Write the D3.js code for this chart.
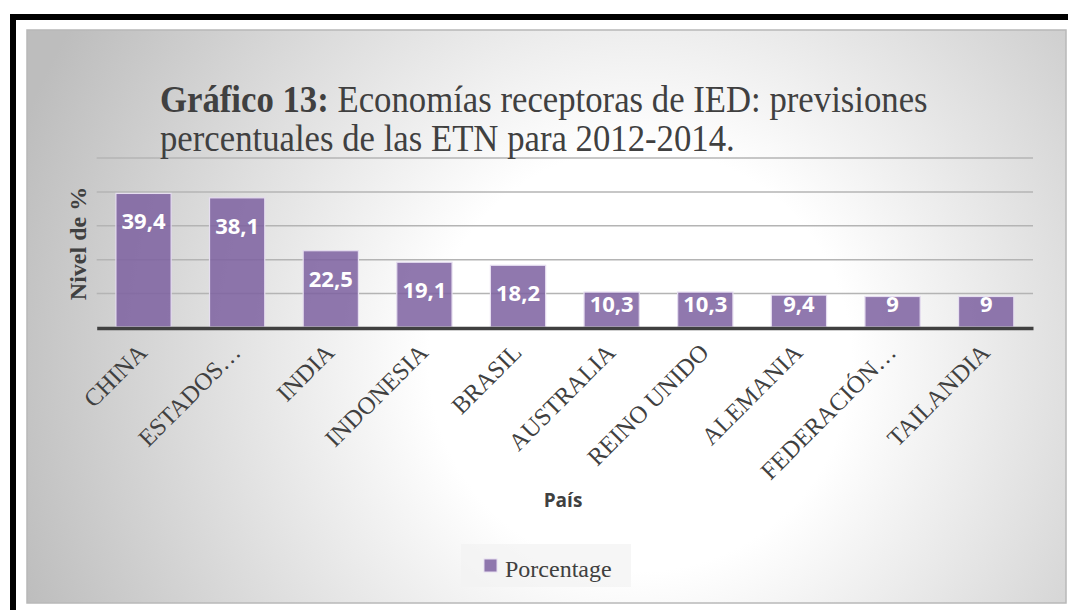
<!DOCTYPE html>
<html>
<head>
<meta charset="utf-8">
<script src="https://cdn.jsdelivr.net/npm/d3@7"></script>
<style>
  html, body { margin: 0; padding: 0; background: #ffffff; }
  svg { display: block; }
</style>
</head>
<body>
<svg id="chart" width="1068" height="610"></svg>
<script>
// Economías receptoras de IED (previsiones 2012-2014)
const categories = ["CHINA", "ESTADOS…", "INDIA", "INDONESIA", "BRASIL",
                    "AUSTRALIA", "REINO UNIDO", "ALEMANIA", "FEDERACIÓN…", "TAILANDIA"];
const values = [39.4, 38.1, 22.5, 19.1, 18.2, 10.3, 10.3, 9.4, 9, 9];
const yTicks = [0, 10, 20, 30, 40, 50];
const seriesName = "Porcentage";
const titleBold = "Gráfico 13:";
const titleRest = " Economías  receptoras de IED: previsiones";
const titleLine2 = "percentuales  de las ETN para 2012-2014.";
const yTitle = "Nivel de %";
const xTitle = "País";

const svg = d3.select("#chart");
const W = 1068, H = 610;
const serif = "'Liberation Serif', 'Times New Roman', serif";
const sans = "'Open Sans', 'Noto Sans', sans-serif";
const textColor = "#404040";
const barFill = "#7d60a0";

// background gradient of the chart panel
const defs = svg.append("defs");
const grad = defs.append("radialGradient")
  .attr("id", "panelGrad")
  .attr("gradientUnits", "userSpaceOnUse")
  .attr("cx", 640).attr("cy", 360).attr("r", 660);
grad.append("stop").attr("offset", "0").attr("stop-color", "#ffffff");
grad.append("stop").attr("offset", "0.32").attr("stop-color", "#ffffff");
grad.append("stop").attr("offset", "1").attr("stop-color", "#bdbdbd");

// frame: black bars on top and left
svg.append("rect").attr("x", 10).attr("y", 14).attr("width", W - 10).attr("height", 6).attr("fill", "#000");
svg.append("rect").attr("x", 10).attr("y", 14).attr("width", 6).attr("height", H - 14).attr("fill", "#000");

// chart panel
svg.append("rect")
  .attr("x", 27).attr("y", 30).attr("width", 1039).attr("height", 573)
  .attr("fill", "url(#panelGrad)")
  .attr("stroke", "#b8b8b8").attr("stroke-width", 1.5);

// scales
const plot = { left: 96.7, right: 1033, top: 157.5, bottom: 327 };
const x = d3.scaleBand().domain(categories)
  .range([plot.left, plot.right]).paddingInner(0.41).paddingOuter(0.205);
const y = d3.scaleLinear().domain([0, 50]).range([plot.bottom, plot.top]);

// gridlines
const yAxis = d3.axisLeft(y).tickValues(yTicks.filter(t => t > 0))
  .tickSize(-(plot.right - plot.left)).tickFormat("");
const gy = svg.append("g").attr("transform", `translate(${plot.left},0)`).call(yAxis);
gy.select(".domain").remove();
gy.selectAll(".tick line").attr("stroke", "#b4b4b4").attr("stroke-width", 1.5);

// bars
svg.append("g").selectAll("rect").data(values).join("rect")
  .attr("x", (d, i) => x(categories[i]))
  .attr("y", d => y(d))
  .attr("width", x.bandwidth())
  .attr("height", d => y(0) - y(d))
  .attr("fill", barFill).attr("fill-opacity", 0.85)
  .attr("stroke", "#e6def0").attr("stroke-width", 1.2);

// x axis line
const xAxis = d3.axisBottom(x).tickSize(0).tickFormat("");
const gx = svg.append("g").attr("transform", `translate(0,${plot.bottom + 1})`).call(xAxis);
gx.select(".domain").attr("stroke", textColor).attr("stroke-width", 3.5);

// data labels
svg.append("g").selectAll("text").data(values).join("text")
  .attr("x", (d, i) => x(categories[i]) + x.bandwidth() / 2)
  .attr("y", d => Math.min(y(d) + 28, y(0) - 23))
  .attr("dy", "0.36em")
  .attr("text-anchor", "middle")
  .attr("font-family", sans).attr("font-weight", 700).attr("font-size", 22)
  .attr("fill", "#ffffff")
  .text(d => String(d).replace(".", ","));

// category labels (rotated)
svg.append("g").selectAll("text").data(categories).join("text")
  .attr("transform", d => `translate(${x(d) + x.bandwidth() / 2 + 5},${plot.bottom + 27}) rotate(-45)`)
  .attr("text-anchor", "end")
  .attr("font-family", serif).attr("font-size", 24.5)
  .attr("fill", textColor)
  .text(d => d);

// axis titles
svg.append("text")
  .attr("transform", `translate(86,243.5) rotate(-90)`)
  .attr("text-anchor", "middle")
  .attr("font-family", serif).attr("font-weight", 700).attr("font-size", 24)
  .attr("fill", textColor)
  .text(yTitle);

svg.append("text")
  .attr("x", 563).attr("y", 507)
  .attr("text-anchor", "middle")
  .attr("font-family", sans).attr("font-weight", 700).attr("font-size", 19)
  .attr("fill", textColor)
  .text(xTitle);

// title (two lines, condensed horizontally)
const titleG = svg.append("g");
const t1 = titleG.append("text").attr("x", 0).attr("y", 0)
  .attr("font-family", serif).attr("font-size", 38).attr("fill", textColor);
t1.append("tspan").attr("font-weight", 700).text(titleBold);
t1.append("tspan").text(titleRest);
const t2 = titleG.append("text").attr("x", 0).attr("y", 39)
  .attr("font-family", serif).attr("font-size", 38).attr("fill", textColor)
  .text(titleLine2);
const titleWidth = t1.node().getComputedTextLength();
const sx = 768 / titleWidth;
titleG.attr("transform", `translate(160,112) scale(${sx},1)`);

// legend
const legend = svg.append("g");
legend.append("rect").attr("x", 461).attr("y", 544).attr("width", 170).attr("height", 43)
  .attr("fill", "#f2f2f2").attr("fill-opacity", 0.7);
legend.append("rect").attr("x", 484).attr("y", 559).attr("width", 13).attr("height", 13)
  .attr("fill", barFill).attr("fill-opacity", 0.85)
  .attr("stroke", "#e6def0").attr("stroke-width", 1);
legend.append("text").attr("x", 505).attr("y", 577)
  .attr("font-family", serif).attr("font-size", 24).attr("fill", textColor)
  .text(seriesName);
</script>
</body>
</html>
